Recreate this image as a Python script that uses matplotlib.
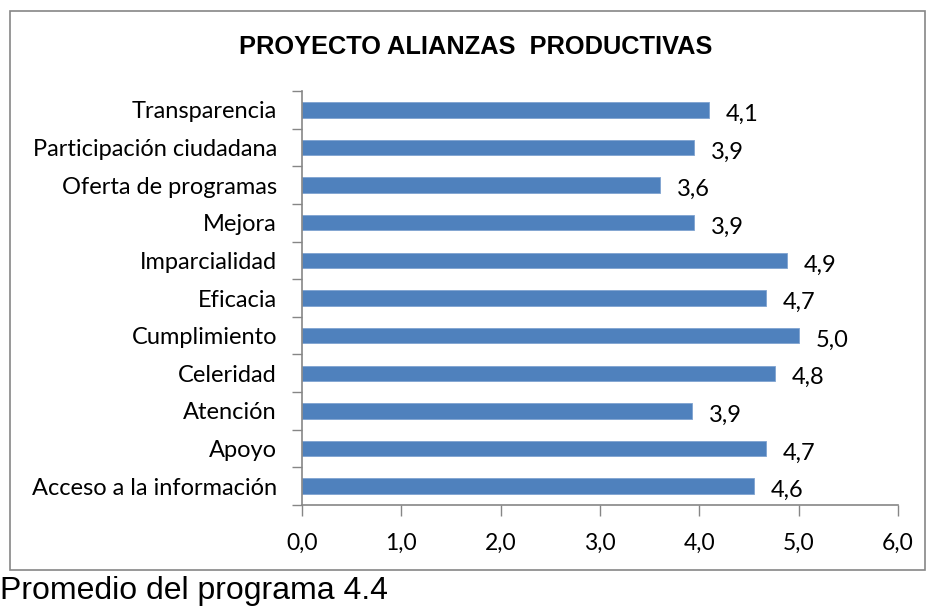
import matplotlib.pyplot as plt
from matplotlib.patches import Rectangle

categories = [
    "Transparencia",
    "Participación ciudadana",
    "Oferta de programas",
    "Mejora",
    "Imparcialidad",
    "Eficacia",
    "Cumplimiento",
    "Celeridad",
    "Atención",
    "Apoyo",
    "Acceso a la información",
]
values = [4.10, 3.95, 3.60, 3.95, 4.88, 4.67, 5.00, 4.76, 3.93, 4.67, 4.55]
labels = ["4,1", "3,9", "3,6", "3,9", "4,9", "4,7", "5,0", "4,8", "3,9", "4,7", "4,6"]
xticks = [0, 1, 2, 3, 4, 5, 6]
xtick_labels = ["0,0", "1,0", "2,0", "3,0", "4,0", "5,0", "6,0"]

bar_color = "#4F81BD"
axis_gray = "#868686"
label_font = "Lato"

fig = plt.figure(figsize=(9.31, 6.06), dpi=100)
ax = fig.add_axes([0.3244, 0.1667, 0.6402, 0.6831])

n = len(categories)
ypos = list(range(n))[::-1]
ax.barh(ypos, values, height=0.41, color=bar_color, edgecolor="#7FA3D0", linewidth=0.6)

for y, v, lab in zip(ypos, values, labels):
    ax.text(v + 0.17, y - 0.12, lab, va="center", ha="left",
            fontsize=17, family=label_font, color="black")

ax.set_xlim(0, 6)
ax.set_ylim(-0.5, n - 0.5)
ax.set_xticks(xticks)
ax.set_xticklabels(xtick_labels, fontsize=16.5, family=label_font)

# category labels sit between the tick marks, like Excel
ax.set_yticks(ypos)
ax.set_yticklabels(categories, fontsize=17, family=label_font)
ax.tick_params(axis="y", length=0, pad=18)
ax.set_yticks([i - 0.5 for i in range(n + 1)], minor=True)
ax.tick_params(axis="y", which="minor", length=7, color=axis_gray, width=1)
ax.tick_params(axis="x", length=8, color=axis_gray, width=1, pad=12)

for side in ["top", "right"]:
    ax.spines[side].set_visible(False)
for side in ["left", "bottom"]:
    ax.spines[side].set_color(axis_gray)
    ax.spines[side].set_linewidth(1.2)

fig.text(0.511, 0.922, "PROYECTO ALIANZAS  PRODUCTIVAS", ha="center", va="center",
         fontsize=18.3, fontweight="bold", family="Liberation Sans")

# outer chart border
fig.patches.append(Rectangle((0.011, 0.06), 0.983, 0.922, transform=fig.transFigure,
                             fill=False, edgecolor=axis_gray, linewidth=1.2))

fig.text(0.0, 0.025, "Promedio del programa 4.4", ha="left", va="center",
         fontsize=23, family="Liberation Sans")

fig.savefig("out.png", dpi=100)
